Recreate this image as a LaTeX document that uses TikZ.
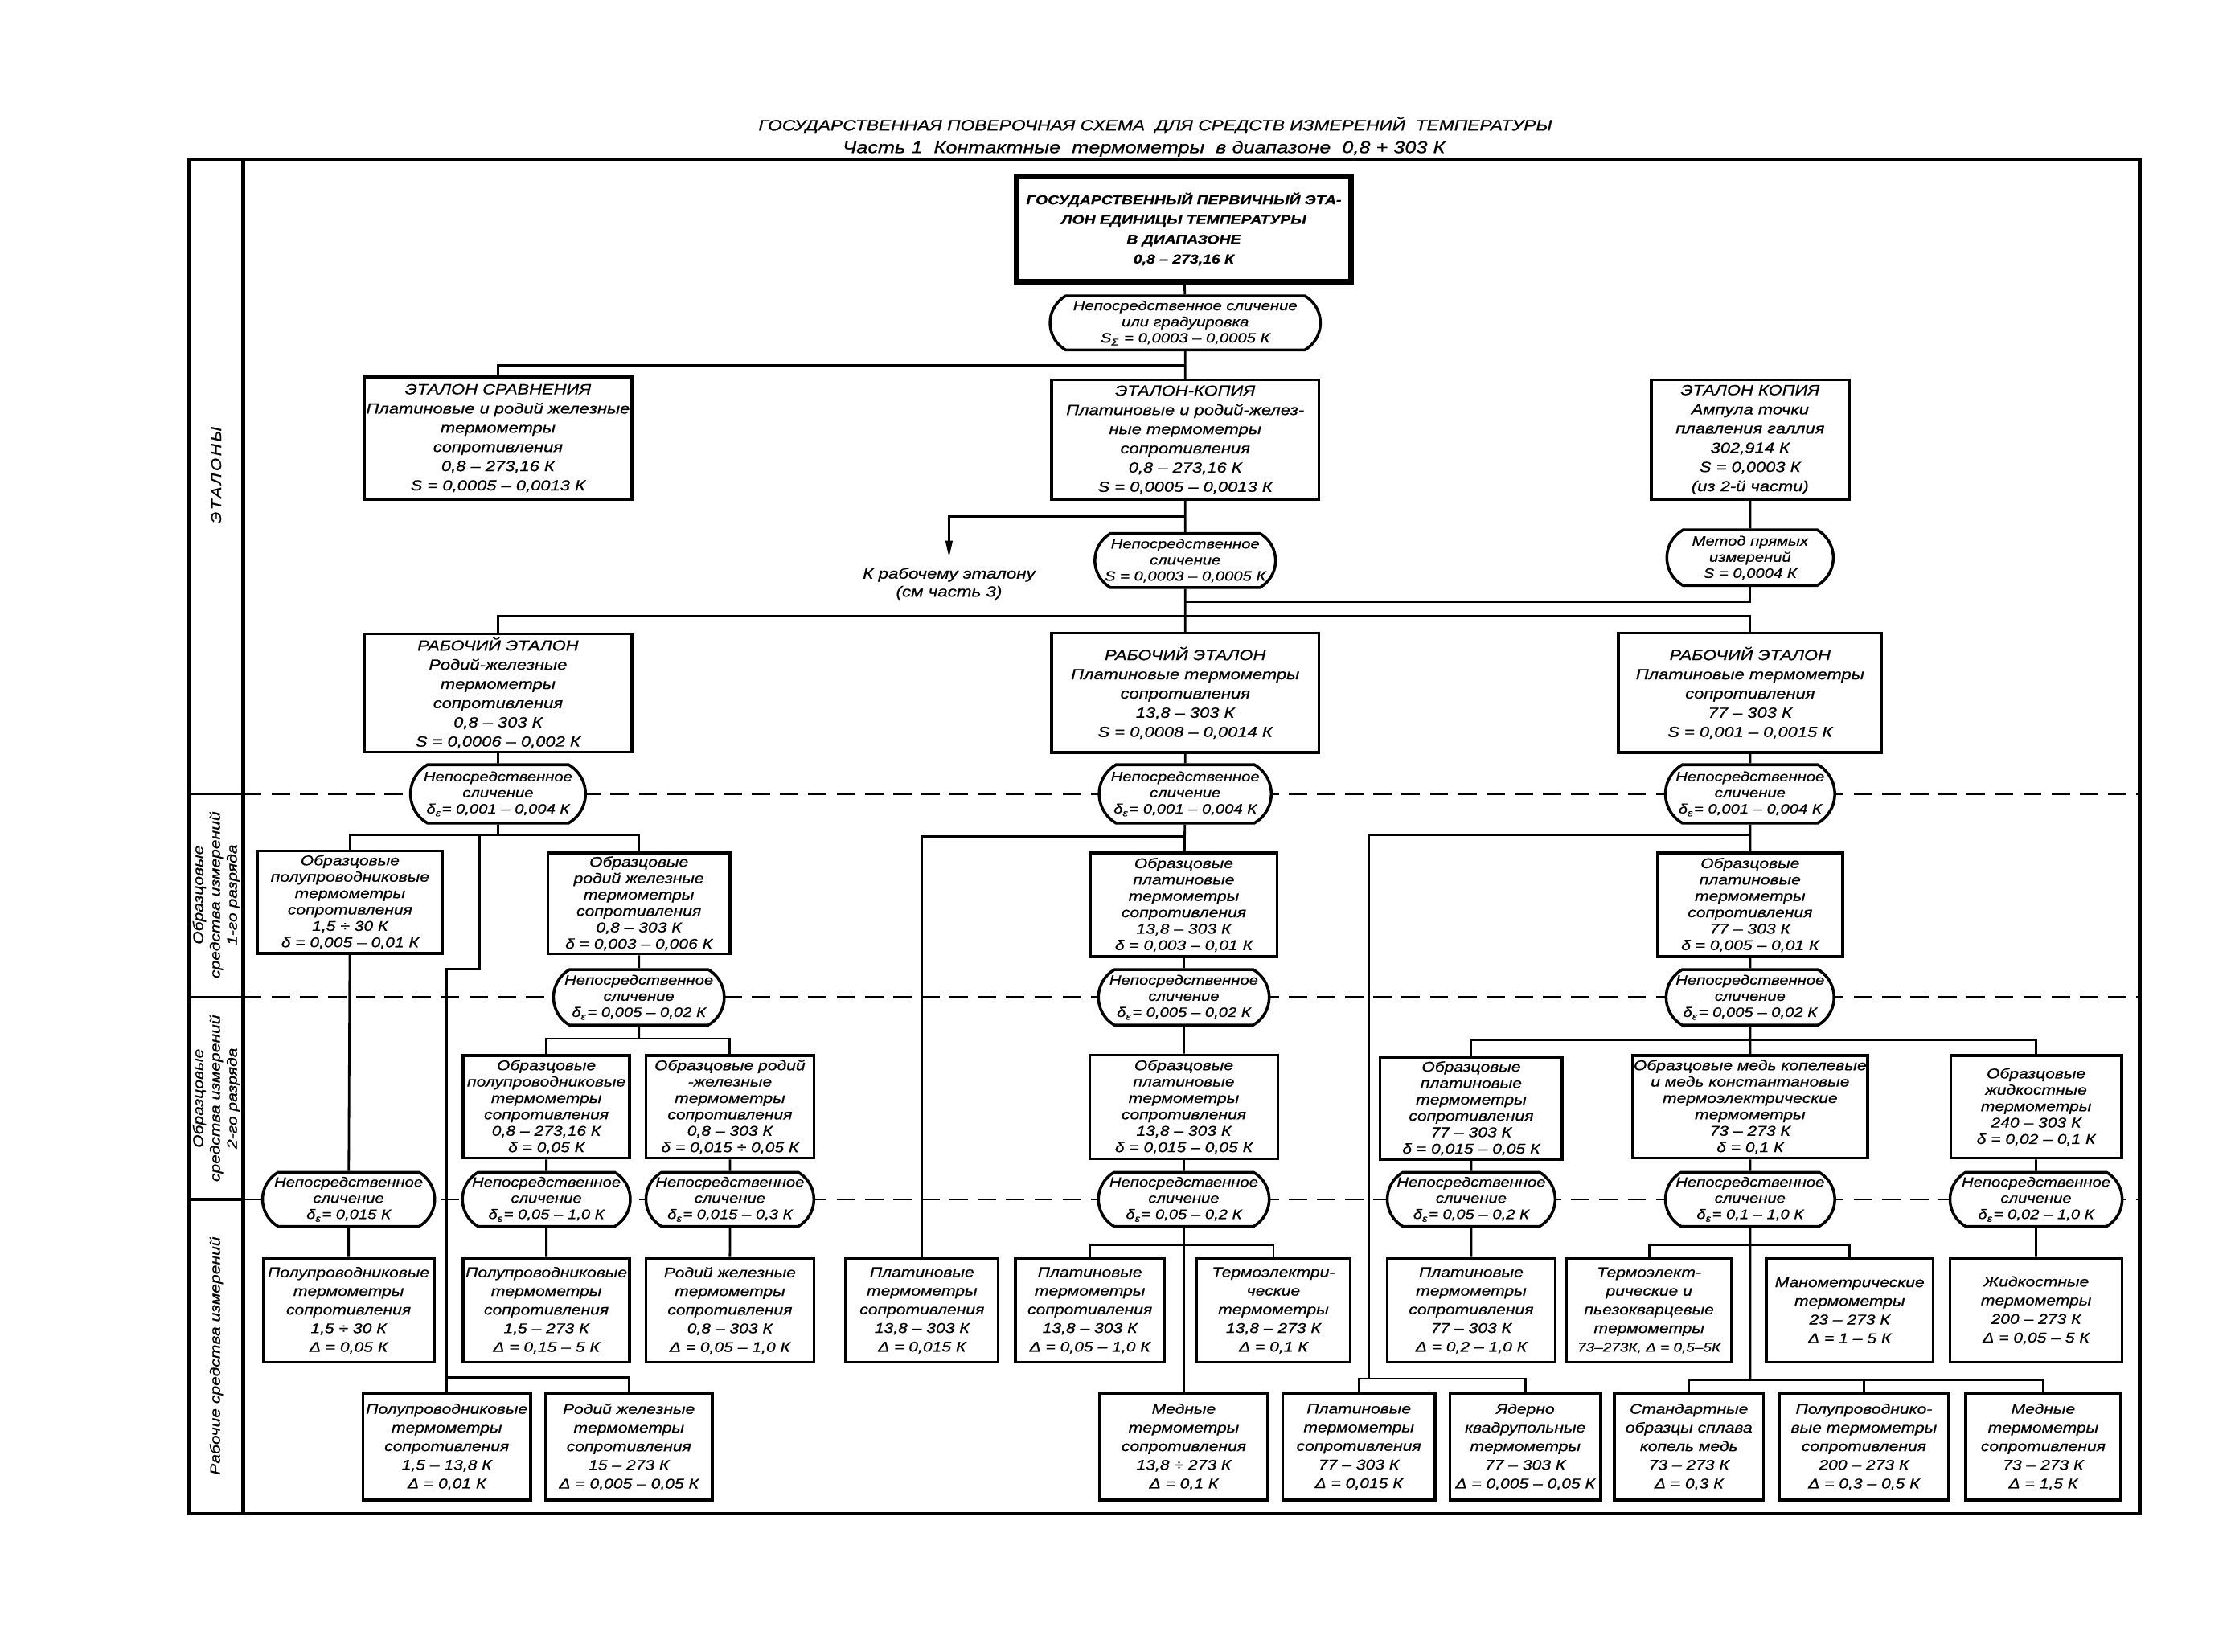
\documentclass[tikz,border=0pt]{standalone}
\usepackage{fontspec}
\setmainfont{Liberation Sans}[FakeStretch=1.2, FakeBold=0.7]
\usetikzlibrary{shapes.misc,arrows.meta}
\usetikzlibrary{positioning}

\newcommand\gostf{\fontsize{5}{5.8}\selectfont\itshape}
\newcommand\gostw{\fontsize{5}{6.6}\selectfont\itshape}
\newcommand\gostb{\fontsize{5.2}{6.8}\selectfont\itshape}
\newcommand\gosto{\fontsize{4.8}{5.7}\selectfont\itshape}
\newcommand\gostp{\fontsize{4.6}{7}\selectfont\bfseries\itshape}
\newcommand\gosts{\fontsize{5}{6}\selectfont\itshape}
\newcommand\dE{δ\textsubscript{ε}}

\tikzset{
  sz/.style 2 args={minimum width=#1*0.5036pt, minimum height=#2*0.5036pt},
  pbox/.style={draw, line width=1pt, fill=white, align=center, inner sep=0pt, font=\gostf},
  wbox/.style={pbox, font=\gostw},
  ebox/.style={pbox, font=\gostb},
  oval/.style={rounded rectangle, rounded rectangle arc length=120, draw,
    line width=1pt, fill=white, align=center, inner sep=0pt, font=\gosto},
  link/.style={line width=.8pt},
  sepline/.style={line width=.8pt, dash pattern=on 6.5pt off 3.5pt},
  framebd/.style={line width=1.3pt},
  strip/.style={rotate=90, align=center, font=\gosts},
}

\begin{document}
\begin{tikzpicture}[x=0.017698cm, y=-0.017698cm]
    \useasboundingbox (0,0) rectangle (1568,1161);
    \fill[white] (0,0) rectangle (1568,1161);

    % title
    \node[font=\fontsize{5.4}{6.5}\selectfont\itshape] (title) at (812,88)
        {ГОСУДАРСТВЕННАЯ ПОВЕРОЧНАЯ СХЕМА \ ДЛЯ СРЕДСТВ ИЗМЕРЕНИЙ \ ТЕМПЕРАТУРЫ};
    \node[font=\fontsize{6}{7}\selectfont\itshape] (subtitle) at (804,104.5)
        {Часть 1 \ Контактные \ термометры \ в диапазоне \ 0,8 + 303 К};

    % frame and dashed levels
    \foreach \y in {558,701,843} {
        \draw[sepline] (171,\y) -- (1504,\y);
        \draw[line width=1pt] (133,\y) -- (171,\y);
    }
    \draw[framebd] (133,112) rectangle (1504,1064);
    \draw[framebd] (171,112) -- (171,1064);

    \node[strip] (lvl0) at (152,334) {\addfontfeature{LetterSpace=14}ЭТАЛОНЫ};
    \node[strip] (lvl1) at (152,629) {Образцовые\\средства измерений\\1-го разряда};
    \node[strip] (lvl2) at (152,772) {Образцовые\\средства измерений\\2-го разряда};
    \node[strip] (lvl3) at (152,953) {Рабочие средства измерений};

    % etalons
    \node[pbox, sz={235}{74}, line width=2.2pt, font=\gostp] (prim) at (832,161)
        {ГОСУДАРСТВЕННЫЙ ПЕРВИЧНЫЙ ЭТА-\\ЛОН ЕДИНИЦЫ ТЕМПЕРАТУРЫ\\В ДИАПАЗОНЕ\\0,8 – 273,16 К};
    \node[oval, sz={190}{38}] (ov0) at (833,227)
        {Непосредственное сличение\\или градуировка\\S\textsubscript{Σ} = 0,0003 – 0,0005 К};
    \node[ebox, sz={188}{86}] (sravn) at (350,308)
        {ЭТАЛОН СРАВНЕНИЯ\\Платиновые и родий железные\\термометры\\сопротивления\\0,8 – 273,16 К\\S = 0,0005 – 0,0013 К};
    \node[ebox, sz={188}{84}] (kopia) at (833,309)
        {ЭТАЛОН-КОПИЯ\\Платиновые и родий-желез-\\ные термометры\\сопротивления\\0,8 – 273,16 К\\S = 0,0005 – 0,0013 К};
    \node[ebox, sz={139}{84}] (gall) at (1230,309)
        {ЭТАЛОН КОПИЯ\\Ампула точки\\плавления галлия\\302,914 К\\S = 0,0003 К\\(из 2-й части)};
    \node[oval, sz={127}{38}] (ov1) at (833,394)
        {Непосредственное\\сличение\\S = 0,0003 – 0,0005 К};
    \node[oval, sz={117}{39}] (ovg) at (1230,392)
        {Метод прямых\\измерений\\S = 0,0004 К};
    \node[font=\fontsize{5.3}{6.4}\selectfont\itshape, align=center, anchor=north] (krab) at (667,392)
        {К рабочему эталону\\(см часть 3)};

    \node[ebox, sz={188}{83}] (WL) at (350,487)
        {РАБОЧИЙ ЭТАЛОН\\Родий-железные\\термометры\\сопротивления\\0,8 – 303 К\\S = 0,0006 – 0,002 К};
    \node[ebox, sz={188}{84}] (WM) at (833,487)
        {РАБОЧИЙ ЭТАЛОН\\Платиновые термометры\\сопротивления\\13,8 – 303 К\\S = 0,0008 – 0,0014 К};
    \node[ebox, sz={185}{84}] (WR) at (1230,487)
        {РАБОЧИЙ ЭТАЛОН\\Платиновые термометры\\сопротивления\\77 – 303 К\\S = 0,001 – 0,0015 К};
    \node[oval, sz={123}{41}] (OL1) at (350,558) {Непосредственное\\сличение\\\dE = 0,001 – 0,004 К};
    \node[oval, sz={121}{41}] (OM1) at (833,558) {Непосредственное\\сличение\\\dE = 0,001 – 0,004 К};
    \node[oval, sz={119}{41}] (OR1) at (1230,558) {Непосредственное\\сличение\\\dE = 0,001 – 0,004 К};

    % 1st rank
    \node[pbox, sz={130}{72}] (A1) at (246,634)
        {Образцовые\\полупроводниковые\\термометры\\сопротивления\\1,5 ÷ 30 К\\δ = 0,005 – 0,01 К};
    \node[pbox, sz={128}{71}] (B1) at (449,635)
        {Образцовые\\родий железные\\термометры\\сопротивления\\0,8 – 303 К\\δ = 0,003 – 0,006 К};
    \node[pbox, sz={131}{73}] (M1) at (832,636)
        {Образцовые\\платиновые\\термометры\\сопротивления\\13,8 – 303 К\\δ = 0,003 – 0,01 К};
    \node[pbox, sz={130}{73}] (R1) at (1230,636)
        {Образцовые\\платиновые\\термометры\\сопротивления\\77 – 303 К\\δ = 0,005 – 0,01 К};
    \node[oval, sz={120}{39}] (OL2) at (449,701) {Непосредственное\\сличение\\\dE = 0,005 – 0,02 К};
    \node[oval, sz={120}{39}] (OM2) at (832,701) {Непосредственное\\сличение\\\dE = 0,005 – 0,02 К};
    \node[oval, sz={118}{39}] (OR2) at (1230,701) {Непосредственное\\сличение\\\dE = 0,005 – 0,02 К};

    % 2nd rank
    \node[pbox, sz={117}{72}] (A2) at (384,778)
        {Образцовые\\полупроводниковые\\термометры\\сопротивления\\0,8 – 273,16 К\\δ = 0,05 К};
    \node[pbox, sz={118}{72}] (B2) at (513,778)
        {Образцовые родий\\-железные\\термометры\\сопротивления\\0,8 – 303 К\\δ = 0,015 ÷ 0,05 К};
    \node[pbox, sz={132}{73}] (M2) at (832,778)
        {Образцовые\\платиновые\\термометры\\сопротивления\\13,8 – 303 К\\δ = 0,015 – 0,05 К};
    \node[pbox, sz={128}{72}] (R2a) at (1034,779)
        {Образцовые\\платиновые\\термометры\\сопротивления\\77 – 303 К\\δ = 0,015 – 0,05 К};
    \node[pbox, sz={165}{72}] (R2b) at (1230,778)
        {Образцовые медь копелевые\\и медь константановые\\термоэлектрические\\термометры\\73 – 273 К\\δ = 0,1 К};
    \node[pbox, sz={120}{72}] (R2c) at (1431,778)
        {Образцовые\\жидкостные\\термометры\\240 – 303 К\\δ = 0,02 – 0,1 К};

    \node[oval, sz={121}{38}] (OWa) at (245,843) {Непосредственное\\сличение\\\dE = 0,015 К};
    \node[oval, sz={117}{38}] (OWb) at (384,843) {Непосредственное\\сличение\\\dE = 0,05 – 1,0 К};
    \node[oval, sz={118}{38}] (OWc) at (513,843) {Непосредственное\\сличение\\\dE = 0,015 – 0,3 К};
    \node[oval, sz={120}{38}] (OM3) at (832,843) {Непосредственное\\сличение\\\dE = 0,05 – 0,2 К};
    \node[oval, sz={117}{38}] (OR3a) at (1034,843) {Непосредственное\\сличение\\\dE = 0,05 – 0,2 К};
    \node[oval, sz={119}{38}] (OR3b) at (1230,843) {Непосредственное\\сличение\\\dE = 0,1 – 1,0 К};
    \node[oval, sz={121}{38}] (OR3c) at (1431,843) {Непосредственное\\сличение\\\dE = 0,02 – 1,0 К};

    % working instruments
    \node[wbox, sz={120}{73}] (WA) at (245,921)
        {Полупроводниковые\\термометры\\сопротивления\\1,5 ÷ 30 К\\Δ = 0,05 К};
    \node[wbox, sz={117}{73}] (WB) at (384,921)
        {Полупроводниковые\\термометры\\сопротивления\\1,5 – 273 К\\Δ = 0,15 – 5 К};
    \node[wbox, sz={118}{73}] (WC) at (513,921)
        {Родий железные\\термометры\\сопротивления\\0,8 – 303 К\\Δ = 0,05 – 1,0 К};
    \node[wbox, sz={107}{73}] (WD) at (648,921)
        {Платиновые\\термометры\\сопротивления\\13,8 – 303 К\\Δ = 0,015 К};
    \node[wbox, sz={105}{73}] (WE) at (766,921)
        {Платиновые\\термометры\\сопротивления\\13,8 – 303 К\\Δ = 0,05 – 1,0 К};
    \node[wbox, sz={108}{73}] (WF) at (895,921)
        {Термоэлектри-\\ческие\\термометры\\13,8 – 273 К\\Δ = 0,1 К};
    \node[wbox, sz={118}{73}] (WG) at (1034,921)
        {Платиновые\\термометры\\сопротивления\\77 – 303 К\\Δ = 0,2 – 1,0 К};
    \node[wbox, sz={116}{73}] (WH) at (1159,921)
        {Термоэлект-\\рические и\\пьезокварцевые\\термометры\\{\fontsize{4.5}{6.6}\selectfont 73–273К, Δ = 0,5–5К}};
    \node[wbox, sz={117}{73}] (WI) at (1300,921)
        {Манометрические\\термометры\\23 – 273 К\\Δ = 1 – 5 К};
    \node[wbox, sz={121}{73}] (WJ) at (1431,921)
        {Жидкостные\\термометры\\200 – 273 К\\Δ = 0,05 – 5 К};

    \node[wbox, sz={118}{75}] (XA) at (314,1017)
        {Полупроводниковые\\термометры\\сопротивления\\1,5 – 13,8 К\\Δ = 0,01 К};
    \node[wbox, sz={117}{75}] (XB) at (442,1017)
        {Родий железные\\термометры\\сопротивления\\15 – 273 К\\Δ = 0,005 – 0,05 К};
    \node[wbox, sz={118}{75}] (XC) at (832,1017)
        {Медные\\термометры\\сопротивления\\13,8 ÷ 273 К\\Δ = 0,1 К};
    \node[wbox, sz={107}{75}] (XD) at (955,1017)
        {Платиновые\\термометры\\сопротивления\\77 – 303 К\\Δ = 0,015 К};
    \node[wbox, sz={106}{75}] (XE) at (1072,1017)
        {Ядерно\\квадрупольные\\термометры\\77 – 303 К\\Δ = 0,005 – 0,05 К};
    \node[wbox, sz={105}{75}] (XF) at (1187,1017)
        {Стандартные\\образцы сплава\\копель медь\\73 – 273 К\\Δ = 0,3 К};
    \node[wbox, sz={119}{75}] (XG) at (1310,1017)
        {Полупроводнико-\\вые термометры\\сопротивления\\200 – 273 К\\Δ = 0,3 – 0,5 К};
    \node[wbox, sz={109}{75}] (XH) at (1436,1017)
        {Медные\\термометры\\сопротивления\\73 – 273 К\\Δ = 1,5 К};

    % junctions
    \coordinate (j0) at (833,257);
    \coordinate (jk) at (833,363);
    \coordinate (jg) at (833,423);
    \coordinate (jw) at (833,433);
    \coordinate (jl1) at (350,587);
    \coordinate (jl2) at (337,587);
    \coordinate (jl2b) at (314,681);
    \coordinate (jl3) at (314,968);
    \coordinate (jl4) at (449,730);
    \coordinate (jm1) at (832,588);
    \coordinate (jm2) at (832,875);
    \coordinate (jr1) at (1230,587);
    \coordinate (jr1b) at (962,969);
    \coordinate (jr2) at (1230,731);
    \coordinate (jr3) at (1230,875);
    \coordinate (jr4) at (1230,970);

    % connectors
    \draw[link] (prim) -- (ov0);
    \draw[link] (ov0) -- (kopia);
    \draw[link] (sravn.north) |- (j0);
    \draw[link] (kopia) -- (ov1);
    \draw[link, -{Triangle[length=6pt, width=2.4pt]}] (jk) -| (krab.north);
    \draw[link] (gall) -- (ovg);
    \draw[link] (ovg.south) |- (jg);
    \draw[link] (ov1) -- (WM);
    \draw[link] (WL.north) |- (jw) -| (WR.north);
    \draw[link] (WL) -- (OL1);
    \draw[link] (WM) -- (OM1);
    \draw[link] (WR) -- (OR1);

    \draw[link] (OL1) -- (jl1);
    \draw[link] (A1.north) |- (jl1) -| (B1.north);
    \draw[link] (jl2) |- (jl2b) -- (jl3);
    \draw[link] (XA.north) |- (jl3) -| (XB.north);
    \draw[link] (B1) -- (OL2);
    \draw[link] (OL2) -- (jl4);
    \draw[link] (A2.north) |- (jl4) -| (B2.north);
    \draw[link] (A1) -- (OWa);
    \draw[link] (A2) -- (OWb);
    \draw[link] (B2) -- (OWc);
    \draw[link] (OWa) -- (WA);
    \draw[link] (OWb) -- (WB);
    \draw[link] (OWc) -- (WC);

    \draw[link] (OM1) -- (M1);
    \draw[link] (jm1) -| (WD.north);
    \draw[link] (M1) -- (OM2);
    \draw[link] (OM2) -- (M2);
    \draw[link] (M2) -- (OM3);
    \draw[link] (OM3) -- (XC);
    \draw[link] (WE.north) |- (jm2) -| (WF.north);

    \draw[link] (OR1) -- (R1);
    \draw[link] (jr1) -| (jr1b);
    \draw[link] (XD.north) |- (jr1b) -| (XE.north);
    \draw[link] (R1) -- (OR2);
    \draw[link] (OR2) -- (R2b);
    \draw[link] (R2a.north) |- (jr2) -| (R2c.north);
    \draw[link] (R2a) -- (OR3a);
    \draw[link] (R2b) -- (OR3b);
    \draw[link] (R2c) -- (OR3c);
    \draw[link] (OR3a) -- (WG);
    \draw[link] (OR3c) -- (WJ);
    \draw[link] (OR3b) -- (jr4);
    \draw[link] (WH.north) |- (jr3) -| (WI.north);
    \draw[link] (XF.north) |- (jr4) -| (XH.north);
    \draw[link] (XG.north) -- (XG.north |- jr4);
\end{tikzpicture}
\end{document}
